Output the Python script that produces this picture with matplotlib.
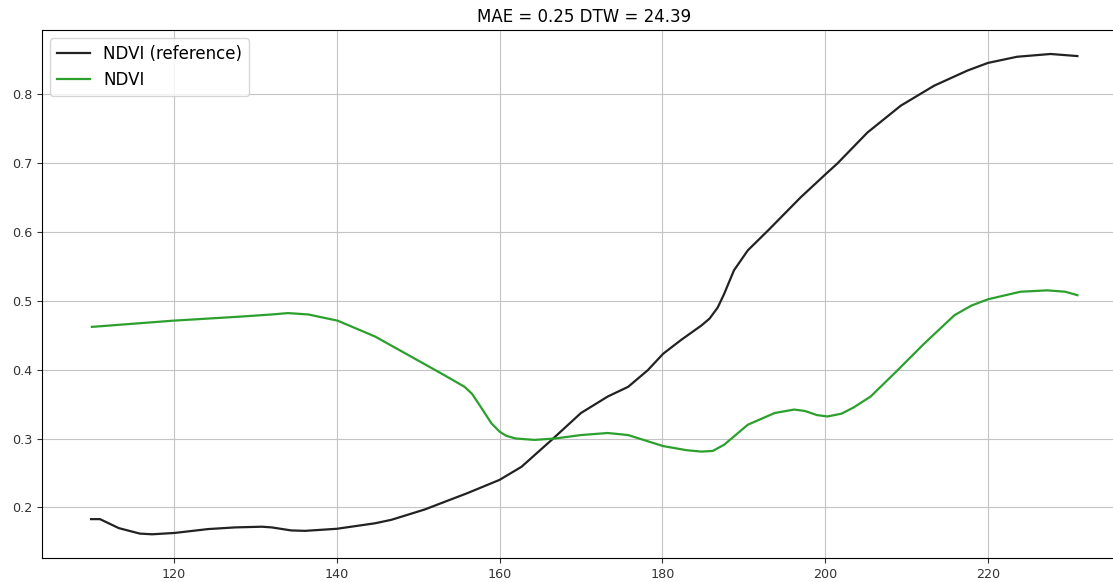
import matplotlib
matplotlib.use("Agg")
import matplotlib.pyplot as plt

# reference NDVI curve (day of year, value)
ref_days = [109.8, 110.9, 113.2, 115.8, 117.3, 120.1, 124.2, 127.5, 130.8, 132.0,
            134.4, 136.1, 140.0, 144.7, 146.7, 150.8, 156.1, 160.0, 162.7, 166.4,
            170.0, 173.3, 175.8, 178.2, 180.1, 182.3, 184.8, 185.8, 186.8, 187.6,
            188.8, 190.5, 193.0, 197.0, 200.1, 201.5, 205.2, 209.3, 213.4, 217.5,
            220.0, 223.6, 227.7, 231.0]
ref_ndvi = [0.183, 0.183, 0.170, 0.162, 0.161, 0.163, 0.1686, 0.171, 0.172, 0.171,
            0.1666, 0.166, 0.169, 0.177, 0.182, 0.197, 0.221, 0.240, 0.259, 0.298,
            0.337, 0.361, 0.375, 0.399, 0.423, 0.443, 0.464, 0.474, 0.490, 0.510,
            0.544, 0.573, 0.602, 0.650, 0.684, 0.699, 0.744, 0.783, 0.812, 0.834,
            0.845, 0.854, 0.858, 0.855]

# predicted NDVI curve
pred_days = [109.9, 119.9, 128.3, 132.0, 134.0, 136.5, 140.1, 144.7, 148.8, 152.9,
             155.7, 156.6, 157.4, 159.0, 160.0, 160.8, 162.0, 164.3, 166.8, 170.0,
             173.3, 175.8, 180.1, 183.0, 184.8, 186.2, 187.6, 189.0, 190.5, 193.8,
             196.2, 197.5, 199.0, 200.3, 202.0, 203.5, 205.6, 208.9, 212.2, 215.9,
             218.0, 220.0, 224.0, 227.3, 229.5, 231.0]
pred_ndvi = [0.462, 0.471, 0.477, 0.480, 0.482, 0.480, 0.471, 0.448, 0.421, 0.394,
             0.375, 0.365, 0.351, 0.322, 0.310, 0.304, 0.300, 0.298, 0.300, 0.305,
             0.308, 0.305, 0.289, 0.283, 0.281, 0.282, 0.291, 0.305, 0.320, 0.337,
             0.342, 0.340, 0.334, 0.332, 0.336, 0.345, 0.361, 0.399, 0.438, 0.479,
             0.493, 0.502, 0.513, 0.515, 0.513, 0.508]

mae = 0.25
dtw = 24.39

fig = plt.figure(figsize=(11.13, 5.82), dpi=100)
ax = fig.add_axes([0.0375, 0.0407, 0.9748, 0.9078])

ax.plot(ref_days, ref_ndvi, color="#222222", lw=1.6, label="NDVI (reference)")
ax.plot(pred_days, pred_ndvi, color="tab:green", lw=1.6, label="NDVI")

ax.set_title(f"MAE = {mae} DTW = {dtw}", fontsize=12)
ax.grid(True, color="#c4c4c4")
ax.tick_params(labelsize=9.2, colors="#333333")
ax.spines["right"].set_visible(False)
ax.legend(loc="upper left", fontsize=12)

fig.savefig("out.png", dpi=100)
